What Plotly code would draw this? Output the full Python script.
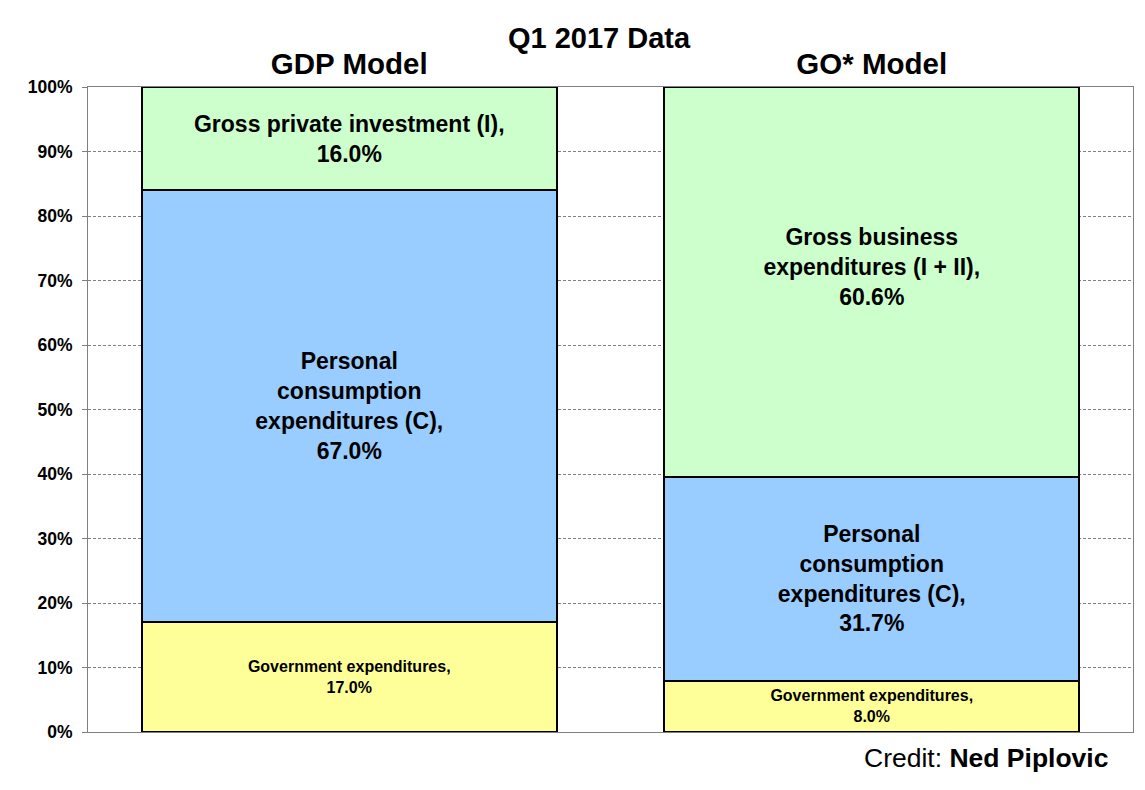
import plotly.graph_objects as go

categories = ["GDP Model", "GO* Model"]
gov_values = [17.0, 8.0]
pce_values = [67.0, 31.7]
inv_values = [16.0, 60.6]

gov_labels = ["Government expenditures,<br>17.0%", "Government expenditures,<br>8.0%"]
pce_labels = ["Personal<br>consumption<br>expenditures (C),<br>67.0%",
              "Personal<br>consumption<br>expenditures (C),<br>31.7%"]
inv_labels = ["Gross private investment (I),<br>16.0%",
              "Gross business<br>expenditures (I + II),<br>60.6%<br>&nbsp;"]

y_ticks = list(range(0, 101, 10))
y_tick_text = [f"{v}%" for v in y_ticks]

FONT = "Liberation Sans, Arial, sans-serif"

# page body has an 8px margin; figure sized/offset to compensate
W, H = 1137, 782
OFF = 8

fig = go.Figure()
series = [
    ("Government expenditures", gov_values, gov_labels, "#FFFF99", 16),
    ("Personal consumption expenditures (C)", pce_values, pce_labels, "#99CCFF", 23),
    ("Gross investment / business expenditures", inv_values, inv_labels, "#CCFFCC", 23),
]
for name, vals, labels, color, fsize in series:
    fig.add_trace(go.Bar(
        name=name, x=categories, y=vals, text=labels,
        textposition="inside", insidetextanchor="middle", textangle=0,
        textfont=dict(family=FONT, size=fsize, color="black", weight="bold"),
        marker=dict(color=color, line=dict(color="black", width=2)),
        width=0.795, hoverinfo="skip",
    ))

fig.update_layout(
    width=W, height=H,
    barmode="stack", barnorm="percent",
    showlegend=False,
    paper_bgcolor="white", plot_bgcolor="white",
    margin=dict(l=88-OFF, r=12, t=87-OFF, b=58),
    font=dict(family=FONT, color="black"),
    title=dict(text="<b>Q1 2017 Data</b>", x=(599-OFF)/W, xanchor="center",
               y=1-(38-OFF)/H, yanchor="middle", yref="container",
               font=dict(family=FONT, size=29, color="black")),
    xaxis=dict(side="top", showline=True, linecolor="#808080", linewidth=1,
               mirror=True, ticks="", showgrid=False,
               tickfont=dict(family=FONT, size=29.5, color="black", weight="bold"),
               range=[-0.5, 1.5]),
    yaxis=dict(range=[0, 100], tickvals=y_ticks, ticktext=y_tick_text,
               showline=True, linecolor="#808080", linewidth=1, mirror=True,
               ticks="outside", ticklen=5, tickcolor="#808080",
               ticklabelstandoff=6,
               showgrid=True, gridcolor="#808080", gridwidth=1, griddash="3px,2px",
               zeroline=False,
               tickfont=dict(family=FONT, size=17.5, color="black", weight="bold")),
    annotations=[dict(
        text="Credit: <b>Ned Piplovic</b>", xref="paper", yref="paper",
        x=(1110-88)/1045, y=(732-758)/645, xanchor="right", yanchor="middle",
        showarrow=False, font=dict(family=FONT, size=26.5, color="black"))],
)

fig.write_html("out.html")
